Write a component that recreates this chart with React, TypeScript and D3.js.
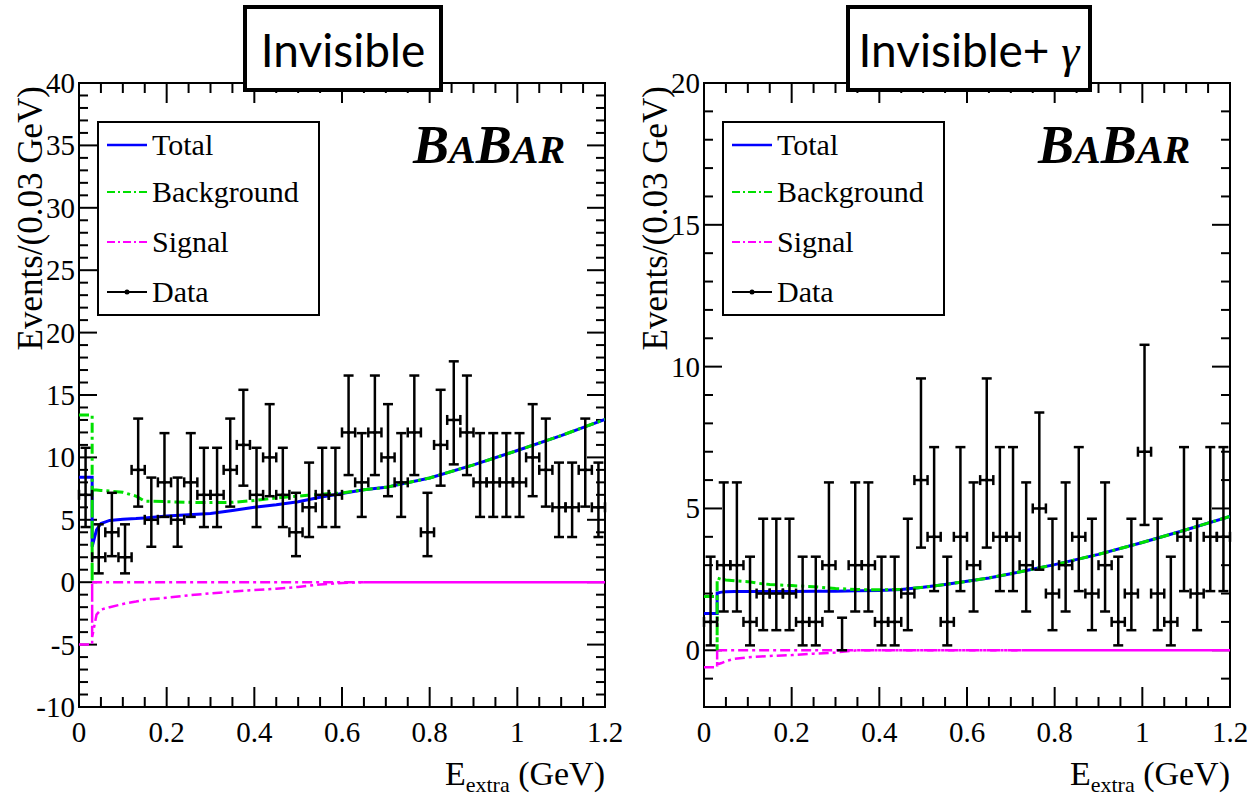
import React from "react";
import * as d3 from "d3";

// ---- data: 0.03 GeV bins from 0 to 1.2 GeV ----
const BIN_WIDTH = 0.03;
const invisibleCounts = [7, 2, 4, 2, 9, 5, 8, 5, 8, 7, 7, 9, 11, 7, 10, 7, 4, 6, 7, 7, 12, 8, 12, 10, 8, 12, 4, 11, 13, 12, 8, 8, 8, 8, 10, 9, 6, 6, 9, 6];
const invisibleGammaCounts = [1, 3, 3, 1, 2, 2, 2, 1, 1, 3, 0, 3, 3, 1, 1, 2, 6, 4, 1, 4, 3, 6, 4, 4, 3, 5, 2, 3, 4, 2, 3, 1, 2, 7, 2, 1, 4, 2, 4, 4];

// fitted PDF shapes, sampled above the first bin
const curveE = [0.03, 0.04, 0.05, 0.07, 0.1, 0.13, 0.15, 0.2, 0.25, 0.3, 0.35, 0.4, 0.45, 0.5, 0.55, 0.6, 0.65, 0.7, 0.8, 0.9, 1.0, 1.1, 1.2];
const invTotal = [2.85, 4.2, 4.7, 4.95, 5.05, 5.1, 5.15, 5.3, 5.4, 5.5, 5.75, 6.0, 6.2, 6.45, 6.8, 7.1, 7.4, 7.6, 8.35, 9.4, 10.55, 11.75, 13.05];
const invBackground = [7.4, 7.38, 7.35, 7.3, 7.2, 6.9, 6.5, 6.45, 6.4, 6.38, 6.4, 6.55, 6.75, 6.9, 7.05, 7.15, 7.4, 7.6, 8.35, 9.4, 10.55, 11.75, 13.05];
const invSignal = [-4.4, -2.6, -2.2, -2.0, -1.75, -1.55, -1.4, -1.25, -1.05, -0.9, -0.75, -0.63, -0.52, -0.38, -0.18, -0.06, 0, 0, 0, 0, 0, 0, 0];
const invGamTotal = [2.02, 2.05, 2.06, 2.07, 2.07, 2.07, 2.07, 2.07, 2.08, 2.08, 2.1, 2.11, 2.14, 2.22, 2.32, 2.43, 2.55, 2.7, 3.02, 3.38, 3.8, 4.25, 4.72];
const invGamBackground = [2.55, 2.5, 2.48, 2.45, 2.42, 2.35, 2.32, 2.28, 2.24, 2.18, 2.14, 2.13, 2.15, 2.22, 2.32, 2.43, 2.55, 2.7, 3.02, 3.38, 3.8, 4.25, 4.72];
const invGamSignal = [-0.5, -0.45, -0.38, -0.3, -0.25, -0.22, -0.2, -0.17, -0.12, -0.08, 0, 0, 0, 0, 0, 0, 0, 0, 0, 0, 0, 0, 0];

// first bin (0 - 0.03 GeV): [total, background, signal]
const invFirstBin = [8.4, 13.4, -5];
const invGamFirstBin = [1.3, 1.9, -0.6];

// where the signal curve becomes a solid zero line
const invSignalSolidFrom = 0.65;
const invGamSignalSolidFrom = 0.73;

// axis ticks
const xMajorTicks = [0, 0.2, 0.4, 0.6, 0.8, 1.0, 1.2];
const xTickLabels = ["0", "0.2", "0.4", "0.6", "0.8", "1", "1.2"];
const invYMajorTicks = [-10, -5, 0, 5, 10, 15, 20, 25, 30, 35, 40];
const invGamYMajorTicks = [0, 5, 10, 15, 20];

const legendLabels = ["Total", "Background", "Signal", "Data"];

const BLUE = "#0000ff";
const GREEN = "#00e000";
const MAGENTA = "#ff00ff";
const DASHDOT = "10,4,3,4";
const SERIF = "Liberation Serif, Times New Roman, Times, DejaVu Serif, serif";

// Poisson central 68.27% interval (zero counts use the one-sided 1.148)
function poissonCdf(k: number, mu: number) {
  let term = Math.exp(-mu);
  let sum = term;
  for (let j = 1; j <= k; j++) {
    term *= mu / j;
    sum += term;
  }
  return sum;
}
function solveDecreasing(f: (m: number) => number, target: number, lo: number, hi: number) {
  for (let i = 0; i < 80; i++) {
    const mid = (lo + hi) / 2;
    if (f(mid) > target) lo = mid;
    else hi = mid;
  }
  return (lo + hi) / 2;
}
function poissonInterval(n: number): [number, number] {
  if (n === 0) return [0, 1.148];
  const lo = solveDecreasing((m) => poissonCdf(n - 1, m), 0.841345, 0, n);
  const hi = solveDecreasing((m) => poissonCdf(n, m), 0.158655, n, n + 30);
  return [lo, hi];
}

type PanelProps = {
  left: number;
  counts: number[];
  total: number[];
  background: number[];
  signal: number[];
  firstBin: number[];
  solidFrom: number;
  yDomain: [number, number];
  yMajors: number[];
  clipId: string;
};

const TOP = 83;
const BOTTOM = 707;
const WIDTH = 526;

function Panel({ left, counts, total, background, signal, firstBin, solidFrom, yDomain, yMajors, clipId }: PanelProps) {
  const x = d3.scaleLinear().domain([0, 1.2]).range([left, left + WIDTH]);
  const y = d3.scaleLinear().domain(yDomain).range([BOTTOM, TOP]);
  const right = left + WIDTH;

  const line = d3
    .line<[number, number]>()
    .x((d) => x(d[0]))
    .y((d) => y(d[1]));

  const cut = curveE[0];

  const bgPts: [number, number][] = [
    [0, firstBin[1]],
    [cut, firstBin[1]],
    [cut, 0],
    ...curveE.map((e, i) => [e, background[i]] as [number, number]),
  ];
  const totPts: [number, number][] = [
    [0, firstBin[0]],
    [cut, firstBin[0]],
    ...curveE.map((e, i) => [e, total[i]] as [number, number]),
  ];
  const sigPts: [number, number][] = [
    [0, firstBin[2]],
    [cut, firstBin[2]],
    [cut, 0],
    [cut, signal[0]],
    ...curveE
      .map((e, i) => [e, signal[i]] as [number, number])
      .filter((d) => d[0] <= solidFrom),
    [solidFrom, 0],
  ];
  const zeroDashed: [number, number][] = [
    [cut, 0],
    [solidFrom, 0],
  ];
  const zeroSolid: [number, number][] = [
    [solidFrom, 0],
    [1.2, 0],
  ];

  // minor ticks
  const xMinor = d3.range(0, 1.2001, 0.05).filter((v) => !xMajorTicks.some((m) => Math.abs(m - v) < 1e-6));
  const yMinor = d3.range(yDomain[0], yDomain[1] + 0.001, 1).filter((v) => !yMajors.includes(v));

  const half = x(BIN_WIDTH / 2) - x(0);

  return (
    <g>
      <defs>
        <clipPath id={clipId}>
          <rect x={left} y={TOP} width={WIDTH} height={BOTTOM - TOP} />
        </clipPath>
      </defs>
      {/* ticks on all four sides */}
      <g stroke="#000" strokeWidth={2}>
        {xMajorTicks.map((t) => (
          <g key={"xM" + t}>
            <line x1={x(t)} x2={x(t)} y1={BOTTOM} y2={BOTTOM - 20} />
            <line x1={x(t)} x2={x(t)} y1={TOP} y2={TOP + 20} />
          </g>
        ))}
        {xMinor.map((t) => (
          <g key={"xm" + t}>
            <line x1={x(t)} x2={x(t)} y1={BOTTOM} y2={BOTTOM - 10} />
            <line x1={x(t)} x2={x(t)} y1={TOP} y2={TOP + 10} />
          </g>
        ))}
        {yMajors.map((t) => (
          <g key={"yM" + t}>
            <line x1={left} x2={left + 18} y1={y(t)} y2={y(t)} />
            <line x1={right} x2={right - 18} y1={y(t)} y2={y(t)} />
          </g>
        ))}
        {yMinor.map((t) => (
          <g key={"ym" + t}>
            <line x1={left} x2={left + 9} y1={y(t)} y2={y(t)} />
            <line x1={right} x2={right - 9} y1={y(t)} y2={y(t)} />
          </g>
        ))}
      </g>
      <rect x={left} y={TOP} width={WIDTH} height={BOTTOM - TOP} fill="none" stroke="#000" strokeWidth={2} />

      {/* tick labels */}
      <g fontFamily={SERIF} fontSize={29} fill="#000">
        {xMajorTicks.map((t, i) => (
          <text key={"xl" + t} x={x(t)} y={742} textAnchor="middle">
            {xTickLabels[i]}
          </text>
        ))}
        {yMajors.map((t) => (
          <text key={"yl" + t} x={left - 4} y={y(t) + 10} textAnchor="end">
            {String(t)}
          </text>
        ))}
      </g>

      {/* fitted curves */}
      <g clipPath={`url(#${clipId})`} fill="none">
        <path d={line(zeroDashed) || ""} stroke={MAGENTA} strokeWidth={2.5} strokeDasharray={DASHDOT} />
        <path d={line(zeroSolid) || ""} stroke={MAGENTA} strokeWidth={2.5} />
        <path d={line(sigPts) || ""} stroke={MAGENTA} strokeWidth={2.5} strokeDasharray={DASHDOT} />
        <path d={line(totPts) || ""} stroke={BLUE} strokeWidth={3} />
        <path d={line(bgPts) || ""} stroke={GREEN} strokeWidth={3} strokeDasharray={DASHDOT} />
      </g>

      {/* data points with Poisson errors */}
      <g stroke="#000" strokeWidth={2.5} fill="#000">
        {counts.map((n, i) => {
          const cx = x(BIN_WIDTH * (i + 0.5));
          const [lo, hi] = poissonInterval(n);
          const cy = y(n);
          return (
            <g key={"d" + i}>
              <line x1={cx} x2={cx} y1={y(lo)} y2={y(hi)} />
              <line x1={cx - 5} x2={cx + 5} y1={y(lo)} y2={y(lo)} />
              <line x1={cx - 5} x2={cx + 5} y1={y(hi)} y2={y(hi)} />
              {n > 0 && (
                <>
                  <line x1={cx - half} x2={cx + half} y1={cy} y2={cy} />
                  <line x1={cx - half} x2={cx - half} y1={cy - 5} y2={cy + 5} />
                  <line x1={cx + half} x2={cx + half} y1={cy - 5} y2={cy + 5} />
                  <circle cx={cx} cy={cy} r={1.8} stroke="none" />
                </>
              )}
            </g>
          );
        })}
      </g>

      {/* legend */}
      <g>
        <rect x={left + 19} y={122} width={221} height={193} fill="#fff" stroke="#000" strokeWidth={2} />
        {legendLabels.map((lab, i) => {
          const ly = [145, 192, 242, 292][i];
          const x1 = left + 28;
          const x2 = left + 68;
          let sample;
          if (i === 0) sample = <line x1={x1} x2={x2} y1={ly} y2={ly} stroke={BLUE} strokeWidth={2.5} />;
          else if (i === 1) sample = <line x1={x1} x2={x2} y1={ly} y2={ly} stroke={GREEN} strokeWidth={2} strokeDasharray="8,3,2,3" />;
          else if (i === 2) sample = <line x1={x1} x2={x2} y1={ly} y2={ly} stroke={MAGENTA} strokeWidth={2} strokeDasharray="8,3,2,3" />;
          else
            sample = (
              <g>
                <line x1={x1} x2={x2} y1={ly} y2={ly} stroke="#000" strokeWidth={2} />
                <circle cx={(x1 + x2) / 2} cy={ly} r={2.5} fill="#000" />
              </g>
            );
          return (
            <g key={lab}>
              {sample}
              <text x={left + 73} y={ly + 10} fontFamily={SERIF} fontSize={30} fill="#000">
                {lab}
              </text>
            </g>
          );
        })}
      </g>

      {/* experiment label */}
      <text x={left + 334} y={163} fontFamily={SERIF} fontWeight="bold" fontStyle="italic" fill="#000">
        <tspan fontSize={54}>B</tspan>
        <tspan fontSize={40}>A</tspan>
        <tspan fontSize={54}>B</tspan>
        <tspan fontSize={40}>AR</tspan>
      </text>

      {/* axis titles */}
      <text
        transform={`translate(${left - 37},${TOP + 3}) rotate(-90)`}
        textAnchor="end"
        fontFamily={SERIF}
        fontSize={35}
        fill="#000"
      >
        Events/(0.03 GeV)
      </text>
      <text x={right} y={785} textAnchor="end" fontFamily={SERIF} fontSize={34} fill="#000">
        E
        <tspan fontSize={22} dy={7}>
          extra
        </tspan>
        <tspan dy={-7}> (GeV)</tspan>
      </text>
    </g>
  );
}

function TitleBox({ x, width, children }: { x: number; width: number; children: React.ReactNode }) {
  return (
    <g>
      <rect x={x} y={7} width={width} height={83} fill="#fff" stroke="#000" strokeWidth={4} />
      <text x={x + width / 2} y={67} textAnchor="middle" fontFamily="Lato, Open Sans, sans-serif" fontSize={46} fill="#000">
        {children}
      </text>
    </g>
  );
}

export default function App() {
  return (
    <svg
      width={1250}
      height={804}
      viewBox="0 0 1250 804"
      style={{ position: "absolute", left: 0, top: 0, background: "#fff" }}
    >
      <rect width={1250} height={804} fill="#fff" />
      <Panel
        left={79}
        counts={invisibleCounts}
        total={invTotal}
        background={invBackground}
        signal={invSignal}
        firstBin={invFirstBin}
        solidFrom={invSignalSolidFrom}
        yDomain={[-10, 40]}
        yMajors={invYMajorTicks}
        clipId="clipInv"
      />
      <Panel
        left={704}
        counts={invisibleGammaCounts}
        total={invGamTotal}
        background={invGamBackground}
        signal={invGamSignal}
        firstBin={invGamFirstBin}
        solidFrom={invGamSignalSolidFrom}
        yDomain={[-2, 20]}
        yMajors={invGamYMajorTicks}
        clipId="clipInvGam"
      />
      <TitleBox x={245} width={196}>
        Invisible
      </TitleBox>
      <TitleBox x={848} width={242}>
        Invisible+{" "}
        <tspan fontFamily={SERIF} fontStyle="italic">
          γ
        </tspan>
      </TitleBox>
    </svg>
  );
}
